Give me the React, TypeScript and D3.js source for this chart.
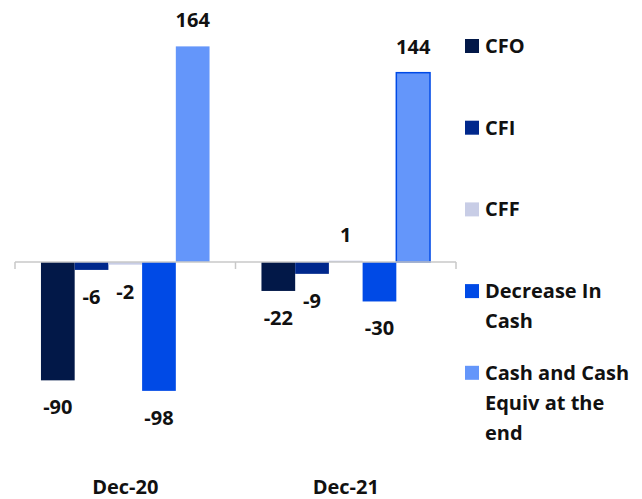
import React from 'react';
import * as d3 from 'd3';

const categories = ['Dec-20', 'Dec-21'];
const seriesNames = ['CFO', 'CFI', 'CFF', 'Decrease In Cash', 'Cash and Cash Equiv at the end'];
const legendLines = [['CFO'], ['CFI'], ['CFF'], ['Decrease In', 'Cash'], ['Cash and Cash', 'Equiv at the', 'end']];
const colors = ['#021848', '#00288c', '#c8cde6', '#004ae6', '#6496fa'];
const cfo = [-90, -22];
const cfi = [-6, -9];
const cff = [-2, 1];
const decrease = [-98, -30];
const cashEnd = [164, 144];
const values = [cfo, cfi, cff, decrease, cashEnd];

const width = 642;
const height = 499;
const font = "'Open Sans', sans-serif";

const App = () => {
  const x0 = d3.scaleBand().domain(categories).range([15, 456]).padding(0);
  const x1 = d3.scaleBand()
    .domain(seriesNames)
    .range([0, x0.bandwidth()])
    .paddingInner(0)
    .paddingOuter(0.77);
  const y = d3.scaleLinear().domain([-100, 170]).range([393.5, 38.5]);
  const zero = y(0);

  return (
    <div style={{ position: 'absolute', left: 0, top: 0 }}>
      <svg width={width} height={height} style={{ display: 'block', fontFamily: font }}>
        {categories.map((cat, ci) => (
          <g key={cat}>
            {seriesNames.map((s, si) => {
              const v = values[si][ci];
              const bx = (x0(cat) ?? 0) + (x1(s) ?? 0);
              const bw = x1.bandwidth();
              const top = Math.min(y(v), zero);
              const h = Math.abs(y(v) - zero);
              const outlined = si === 4 && ci === 1;
              return (
                <g key={s}>
                  <rect
                    x={bx}
                    y={top}
                    width={bw}
                    height={Math.max(h, 1)}
                    fill={colors[si]}
                    stroke={outlined ? '#004ae6' : 'none'}
                    strokeWidth={outlined ? 1.5 : 0}
                  />
                  <text
                    x={bx + bw / 2}
                    y={v >= 0 ? y(v) - 19 : y(v) + 34}
                    textAnchor="middle"
                    fontSize={20}
                    fontWeight="bold"
                    fill="#111"
                  >
                    {v}
                  </text>
                </g>
              );
            })}
            <text
              x={(x0(cat) ?? 0) + x0.bandwidth() / 2}
              y={494}
              textAnchor="middle"
              fontSize={20}
              fontWeight="bold"
              fill="#111"
            >
              {cat}
            </text>
          </g>
        ))}
        <line x1={15} x2={456} y1={zero} y2={zero} stroke="#c8c8c8" strokeWidth={1.5} />
        {[15, 15 + x0.bandwidth(), 456].map((tx) => (
          <line key={tx} x1={tx} x2={tx} y1={zero} y2={zero + 7} stroke="#c8c8c8" strokeWidth={1.5} />
        ))}
        {legendLines.map((lines, i) => {
          const ly = 39 + i * 81.7;
          return (
            <g key={i}>
              <rect x={465} y={ly} width={14} height={14} fill={colors[i]} />
              {lines.map((ln, j) => (
                <text key={j} x={485} y={ly + 14 + j * 30} fontSize={20} fontWeight="bold" fill="#111">
                  {ln}
                </text>
              ))}
            </g>
          );
        })}
      </svg>
    </div>
  );
};

export default App;
